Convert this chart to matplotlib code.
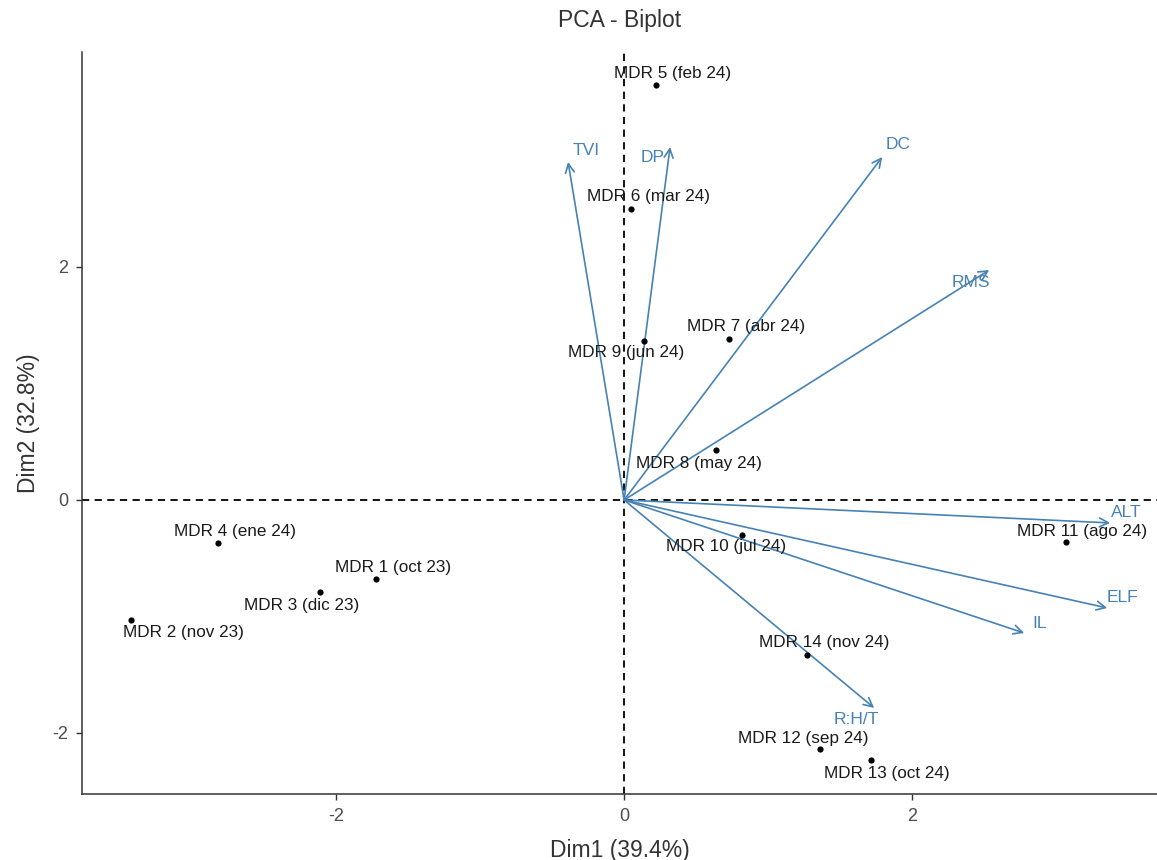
import matplotlib
matplotlib.use("Agg")
import matplotlib.pyplot as plt

plt.rcParams['font.family'] = ['Liberation Sans', 'DejaVu Sans']

# Individuals (PCA scores)
ind_labels = ["MDR 1 (oct 23)", "MDR 2 (nov 23)", "MDR 3 (dic 23)", "MDR 4 (ene 24)",
              "MDR 5 (feb 24)", "MDR 6 (mar 24)", "MDR 7 (abr 24)", "MDR 8 (may 24)",
              "MDR 9 (jun 24)", "MDR 10 (jul 24)", "MDR 11 (ago 24)", "MDR 12 (sep 24)",
              "MDR 13 (oct 24)", "MDR 14 (nov 24)"]
ind_x = [-1.722, -3.424, -2.111, -2.819, 0.222, 0.049, 0.729, 0.639,
         0.139, 0.819, 3.069, 1.361, 1.715, 1.271]
ind_y = [-0.678, -1.030, -0.790, -0.369, 3.562, 2.498, 1.382, 0.429,
         1.365, -0.300, -0.361, -2.137, -2.232, -1.330]

# Variables (loadings, scaled)
var_labels = ["TVI", "DP", "DC", "RMS", "ALT", "ELF", "IL", "R:H/T"]
var_x = [-0.389, 0.319, 1.792, 2.535, 3.375, 3.354, 2.778, 1.736]
var_y = [2.901, 3.030, 2.944, 1.974, -0.197, -0.927, -1.142, -1.785]

# label offsets (pixels) for repelled labels
ind_off = [(17, 11), (52, -13), (-18, -13), (17, 11), (16, 12), (17, 12), (17, 12),
           (-17, -13), (-18, -12), (-16, -12), (16, 11), (-17, 10), (16, -13), (17, 12)]
var_off = [(18, 12), (-17, -11), (16, 12), (-18, -12), (16, 10), (15, 10), (15, 10), (-18, -12)]

fig = plt.figure(figsize=(11.57, 8.6), dpi=100)
ax = fig.add_axes([0.0709, 0.0767, 0.9291, 0.8628])

ax.set_xlim(-3.764, 3.70)
ax.set_ylim(-2.524, 3.845)

ax.axhline(0, color='black', ls=(0, (4, 3)), lw=1.3, zorder=1)
ax.axvline(0, color='black', ls=(0, (4, 3)), lw=1.3, zorder=1)

arrow_col = '#4682B4'
for lab, x, y, (dx, dy) in zip(var_labels, var_x, var_y, var_off):
    ax.annotate('', xy=(x, y), xytext=(0, 0),
                arrowprops=dict(arrowstyle='->', color=arrow_col, lw=1.2,
                                mutation_scale=16, shrinkA=0, shrinkB=0), zorder=2)
    ax.annotate(lab, xy=(x, y), xytext=(dx, dy), textcoords='offset pixels',
                ha='center', va='center', color=arrow_col, fontsize=12.5, zorder=3)

ax.scatter(ind_x, ind_y, s=20, color='black', zorder=4, linewidths=0)
for lab, x, y, (dx, dy) in zip(ind_labels, ind_x, ind_y, ind_off):
    ax.annotate(lab, xy=(x, y), xytext=(dx, dy), textcoords='offset pixels',
                ha='center', va='center', color='#1a1a1a', fontsize=12.3, zorder=5)

ax.set_xticks([-2, 0, 2])
ax.set_yticks([-2, 0, 2])
ax.set_xticklabels(['-2', '0', '2'])
ax.set_yticklabels(['-2', '0', '2'])
ax.tick_params(axis='both', colors='#333333', labelcolor='#4d4d4d', labelsize=13,
               length=4, width=1, direction='out', pad=6)
for s in ['top', 'right']:
    ax.spines[s].set_visible(False)
for s in ['left', 'bottom']:
    ax.spines[s].set_color('#333333')
    ax.spines[s].set_linewidth(1.1)

ax.set_xlabel('Dim1 (39.4%)', fontsize=16.5, color='#333333', labelpad=10)
ax.set_ylabel('Dim2 (32.8%)', fontsize=16.5, color='#333333', labelpad=9)
ax.set_title('PCA - Biplot', fontsize=16.5, color='#333333', pad=18)

fig.savefig('out.png', dpi=100)
